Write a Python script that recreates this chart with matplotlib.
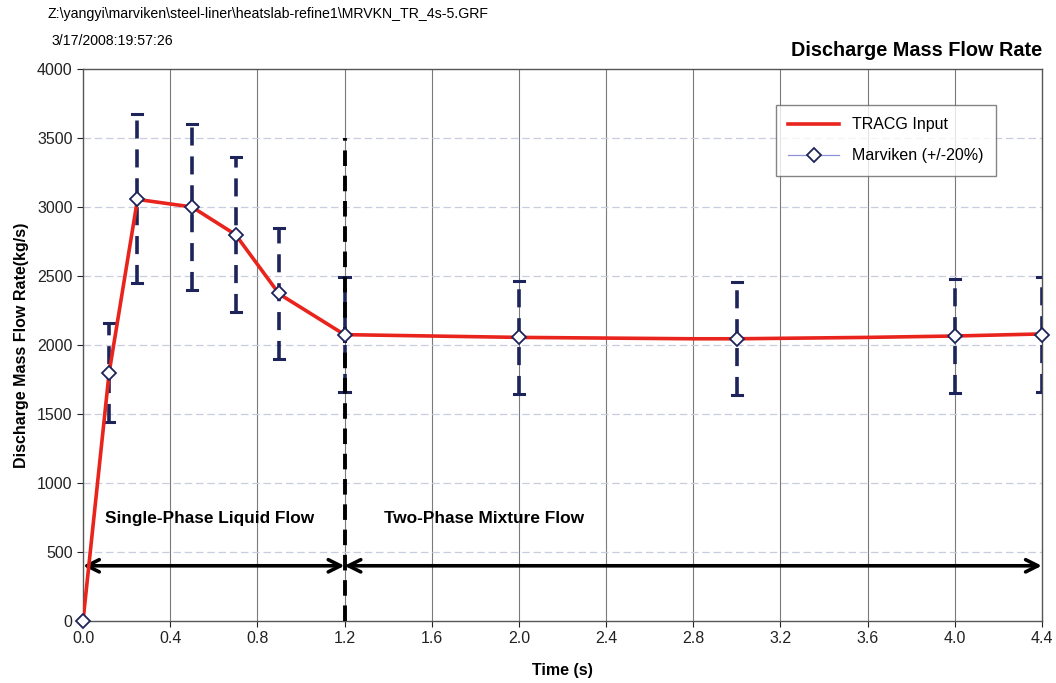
import numpy as np
import matplotlib
matplotlib.use("Agg")
import matplotlib.pyplot as plt
from matplotlib.lines import Line2D

plt.rcParams['font.family'] = ['Liberation Sans', 'DejaVu Sans']

# TRACG Input (red line)
tracg_t = [0.0, 0.12, 0.25, 0.5, 0.7, 0.9, 1.2, 1.6, 2.0, 2.4, 2.8, 3.0, 3.6, 4.0, 4.4]
tracg_q = [0, 1800, 3055, 3000, 2800, 2370, 2075, 2065, 2055, 2050, 2045, 2045, 2055, 2065, 2080]

# Marviken data (+/-20%)
marv_t = [0.0, 0.12, 0.25, 0.5, 0.7, 0.9, 1.2, 2.0, 3.0, 4.0, 4.4]
marv_q = [0, 1800, 3060, 3000, 2800, 2375, 2075, 2055, 2045, 2065, 2075]
err_frac = 0.2

x_ticks = [0.0, 0.4, 0.8, 1.2, 1.6, 2.0, 2.4, 2.8, 3.2, 3.6, 4.0, 4.4]
y_ticks = [0, 500, 1000, 1500, 2000, 2500, 3000, 3500, 4000]

fig = plt.figure(figsize=(10.56, 6.83), dpi=100)
ax = fig.add_axes([0.0786, 0.0908, 0.908, 0.8082])

# grid
for xt in x_ticks[1:-1]:
    ax.axvline(xt, color='#7a7a7a', lw=0.8, zorder=0)
for yt in y_ticks[1:-1]:
    ax.axhline(yt, color='#c8cde0', lw=0.9, ls=(0, (6, 3)), zorder=0)

# error bars (dashed navy)
navy = '#1c2459'
for t, q in zip(marv_t[1:], marv_q[1:]):
    lo, hi = q * (1 - err_frac), q * (1 + err_frac)
    ax.plot([t, t], [lo, hi], color=navy, lw=2.6, ls=(0, (5, 3)), zorder=3)
    ax.plot([t - 0.023, t + 0.023], [hi, hi], color=navy, lw=2.2, zorder=3)
    ax.plot([t - 0.023, t + 0.023], [lo, lo], color=navy, lw=2.2, zorder=3)

# phase boundary
ax.plot([1.2, 1.2], [0, 3500], color='black', lw=2.8, ls=(0, (4, 2.5)), zorder=4)

# arrows
arrow_y = 400
ax.annotate('', xy=(0.0, arrow_y), xytext=(1.2, arrow_y),
            arrowprops=dict(arrowstyle='<->', color='black', lw=2.6,
                            mutation_scale=22, shrinkA=0, shrinkB=0), zorder=5)
ax.annotate('', xy=(1.2, arrow_y), xytext=(4.4, arrow_y),
            arrowprops=dict(arrowstyle='<->', color='black', lw=2.6,
                            mutation_scale=22, shrinkA=0, shrinkB=0), zorder=5)

ax.text(0.1, 740, 'Single-Phase Liquid Flow', fontsize=12.4, fontweight='bold', va='center')
ax.text(1.38, 740, 'Two-Phase Mixture Flow', fontsize=12.4, fontweight='bold', va='center')

# lines
marv_color = '#8c93d8'
ax.plot(marv_t, marv_q, color=marv_color, lw=0.9, zorder=5)
ax.plot(tracg_t, tracg_q, color='#e8241c', lw=2.6, zorder=6)
ax.plot(marv_t, marv_q, ls='none', marker='D', ms=7,
        mfc='white', mec=navy, mew=1.3, zorder=7, clip_on=False)

handles = [Line2D([], [], color='#e8241c', lw=2.6),
           Line2D([], [], color=marv_color, lw=0.9, marker='D', ms=7,
                  mfc='white', mec=navy, mew=1.3)]
labels = ['TRACG Input', 'Marviken (+/-20%)']

ax.set_xlim(0, 4.4)
ax.set_ylim(0, 4000)
ax.set_xticks(x_ticks)
ax.set_xticklabels(['%.1f' % v for v in x_ticks])
ax.set_yticks(y_ticks)
ax.tick_params(labelsize=11.5, length=4, direction='out', colors='#222222')
for s in ax.spines.values():
    s.set_color('#555555')
    s.set_linewidth(1.0)

ax.set_xlabel('Time (s)', fontsize=11.5, fontweight='bold', labelpad=12)
ax.set_ylabel('Discharge Mass Flow Rate(kg/s)', fontsize=11.5, fontweight='bold', labelpad=6)

leg = ax.legend(handles, labels, loc='upper right', bbox_to_anchor=(0.961, 0.95),
                fontsize=11.5, frameon=True, fancybox=False, edgecolor='#666666',
                borderpad=0.8, labelspacing=1.0, handlelength=3.2)
leg.get_frame().set_linewidth(1.0)

fig.text(0.9867, 0.912, 'Discharge Mass Flow Rate', fontsize=14.3, fontweight='bold',
         ha='right', va='bottom')
fig.text(0.045, 0.98, r'Z:\yangyi\marviken\steel-liner\heatslab-refine1\MRVKN_TR_4s-5.GRF',
         fontsize=10.2, ha='left', va='center')
fig.text(0.049, 0.94, '3/17/2008:19:57:26', fontsize=10.2, ha='left', va='center')

fig.savefig('out.png', dpi=100)
